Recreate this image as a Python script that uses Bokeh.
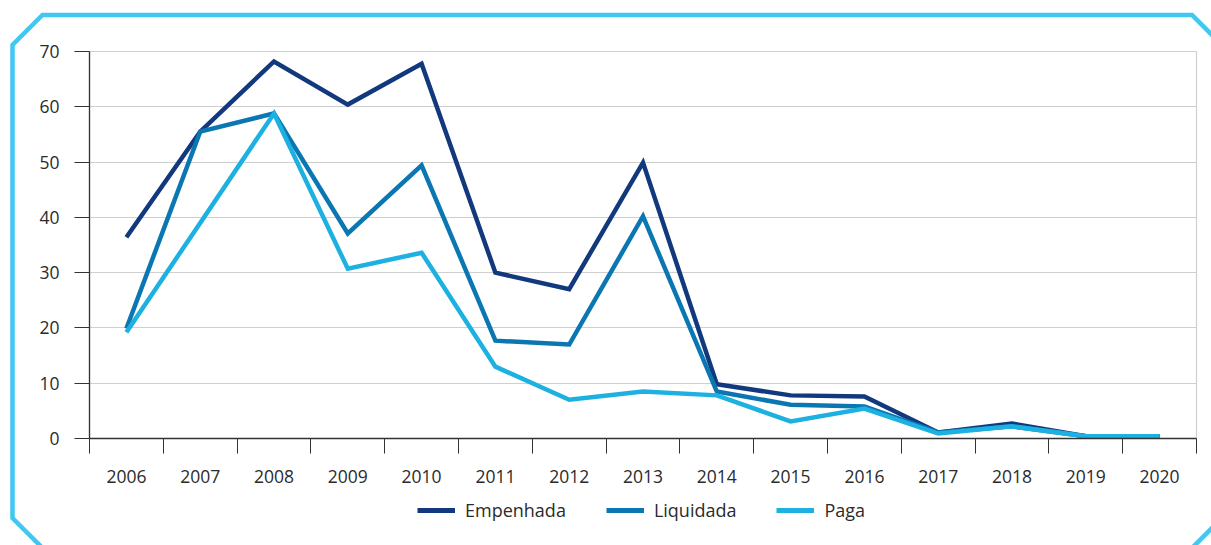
from bokeh.plotting import figure
from bokeh.layouts import column
from bokeh.models import FixedTicker, Range1d, Legend, LegendItem
from bokeh.embed import file_html
from bokeh.resources import INLINE

years = ["2006", "2007", "2008", "2009", "2010", "2011", "2012", "2013",
         "2014", "2015", "2016", "2017", "2018", "2019", "2020"]
empenhada = [36.4, 55.5, 68.2, 60.4, 67.8, 30.0, 27.0, 49.9, 9.8, 7.8, 7.6, 1.1, 2.7, 0.4, 0.4]
liquidada = [19.9, 55.5, 58.8, 37.1, 49.4, 17.7, 17.0, 40.2, 8.5, 6.1, 5.8, 1.1, 2.2, 0.4, 0.4]
paga = [19.2, 39.0, 58.8, 30.7, 33.6, 13.0, 7.0, 8.5, 7.8, 3.1, 5.4, 0.9, 2.2, 0.4, 0.4]
y_ticks = [0, 10, 20, 30, 40, 50, 60, 70]

series_names = ["Empenhada", "Liquidada", "Paga"]
colors = ["#12387d", "#0b77b2", "#1db1e1"]

FONT = "Open Sans"
TXT = "#2b2b2b"

n = len(years)
xc = [i + 0.5 for i in range(n)]
all_series = [empenhada, liquidada, paga]

W, H = 1211, 545
H_MAIN = 495
H_LEG = H - H_MAIN

p = figure(width=W, height=H_MAIN, output_backend="svg", toolbar_location=None,
           x_range=Range1d(0, n), y_range=Range1d(0, 70),
           min_border_left=89, min_border_right=15, min_border_top=51,
           min_border_bottom=H_MAIN - 438)
p.background_fill_color = "white"
p.border_fill_color = None
p.outline_line_color = "#cfcfcf"
p.outline_line_width = 1.2

# x axis: labels at category centres, ticks at category boundaries
p.xaxis.ticker = FixedTicker(ticks=xc, minor_ticks=list(range(n + 1)))
p.xaxis.major_label_overrides = {x: y for x, y in zip(xc, years)}
p.xaxis.major_tick_out = 0
p.xaxis.major_tick_in = 0
p.xaxis.minor_tick_out = 15
p.xaxis.minor_tick_in = 0
p.xaxis.minor_tick_line_color = "#333333"
p.xaxis.axis_line_color = "#333333"
p.xaxis.axis_line_width = 1.3
p.xaxis.major_label_standoff = 16
p.xaxis.major_label_text_font = FONT
p.xaxis.major_label_text_font_size = "17.5px"
p.xaxis.major_label_text_color = TXT

# y axis
p.yaxis.ticker = FixedTicker(ticks=y_ticks, minor_ticks=[])
p.yaxis.major_tick_out = 15
p.yaxis.major_tick_in = 0
p.yaxis.major_tick_line_color = "#333333"
p.yaxis.axis_line_color = "#333333"
p.yaxis.axis_line_width = 1.3
p.yaxis.major_label_standoff = 15
p.yaxis.major_label_text_font = FONT
p.yaxis.major_label_text_font_size = "17.5px"
p.yaxis.major_label_text_color = TXT

p.xgrid.grid_line_color = None
p.ygrid.ticker = FixedTicker(ticks=y_ticks)
p.ygrid.grid_line_color = "#cfcfcf"
p.ygrid.grid_line_width = 1.2

for vals, c in zip(all_series, colors):
    p.line(xc, vals, line_color=c, line_width=4.5, line_join="miter")

# legend strip below the chart (its lines lie outside the strip's visible range)
q = figure(width=W, height=H_LEG, output_backend="svg", toolbar_location=None,
           x_range=Range1d(0, n), y_range=Range1d(-1000, -999),
           x_axis_location=None, y_axis_location=None, min_border=0)
q.grid.visible = False
q.outline_line_color = None
q.background_fill_color = None
q.border_fill_color = None
items = []
for name, vals, c in zip(series_names, all_series, colors):
    r = q.line(xc, vals, line_color=c, line_width=5)
    items.append(LegendItem(label=name, renderers=[r]))
legend = Legend(items=items, orientation="horizontal", location=(328, H_LEG - 17 - 10),
                glyph_width=38, glyph_height=20, label_height=20, label_standoff=10, spacing=40,
                padding=0, margin=0, border_line_color=None, background_fill_alpha=0,
                label_text_font=FONT, label_text_font_size="18px", label_text_color=TXT)
q.add_layout(legend, "center")

# decorative cut-corner frame around the whole chart (CSS background)
frame_svg = ("<svg xmlns='http://www.w3.org/2000/svg' width='%d' height='%d'>"
             "<polygon points='42.5,15 1192,15 1222,45 1222,518 1192,548 42.5,548 12.5,518 12.5,45' "
             "fill='none' stroke='%%2341c8f1' stroke-width='4.5'/></svg>") % (W, H)
layout = column(p, q, spacing=0,
                styles={"background-color": "white",
                        "background-image": 'url("data:image/svg+xml;utf8,%s")' % frame_svg,
                        "background-repeat": "no-repeat"})

open("out.html", "w").write(file_html(layout, INLINE))
